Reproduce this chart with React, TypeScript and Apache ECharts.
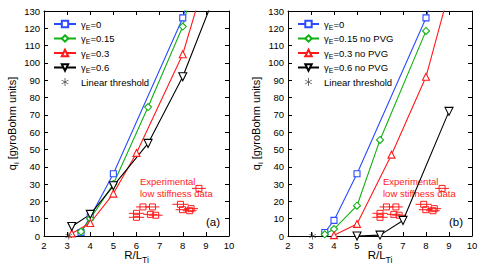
import React, { useEffect, useRef } from "react";
import * as echarts from "echarts";

// ---------- data ----------
const xTicksMin = 2;
const xTicksMax = 10;
const yTicksMin = 0;
const yTicksMax = 130;

// panel (a)
const gE0_a = [[3.6, 2], [4, 11], [5, 36], [8, 126], [9, 171]];
const gE015_a = [[3.6, 2.5], [4, 10], [5, 30], [6.5, 74.5], [8, 121], [9, 175]];
const gE03_a = [[3.2, 1.5], [4, 7.5], [5, 24.5], [6, 48], [8, 105], [9, 150]];
const gE06_a = [[3.2, 5.5], [4, 12.5], [5, 29], [6.5, 53.5], [8, 92], [10, 160]];

// panel (b)
const gE0_b = [[3.6, 2], [4, 9], [5, 36], [8, 126], [9, 171]];
const gE015_b = [[3.6, 1], [4, 4], [5, 17.5], [6, 55.5], [8, 118.5]];
const gE03_b = [[4, 0.5], [5, 7], [6.5, 47], [8, 92], [9, 141]];
const gE06_b = [[5, 0], [6, 0.5], [7, 9], [9, 72]];

const linearThreshold = [[3.07, 0]];

// experimental low stiffness data: x, y, x half-error
const expX = [6.28, 6.69, 6.0, 6.0, 6.6, 6.83, 7.9, 7.99, 8.3, 8.36, 8.7];
const expY = [16.8, 16.8, 13.1, 10.8, 12.5, 12.0, 18.3, 15.2, 14.6, 15.8, 27.5];
const expErr = [0.3, 0.3, 0.33, 0.33, 0.3, 0.3, 0.35, 0.3, 0.3, 0.3, 0.3];

const namesA = ["γE=0", "γE=0.15", "γE=0.3", "γE=0.6", "Linear threshold"];
const namesB = ["γE=0", "γE=0.15 no PVG", "γE=0.3 no PVG", "γE=0.6 no PVG", "Linear threshold"];

const BLUE = "#2a4bff";
const GREEN = "#12b012";
const RED = "#ff1a1a";
const BLACK = "#000000";

const FONT = "Liberation Sans";

const INV_TRI = "path://M0,0 L10,0 L5,9 Z";
const ASTERISK =
  "path://M4.5,0 L5.5,0 L5.5,10 L4.5,10 Z M0.92,2.07 L9.58,7.07 L9.08,7.93 L0.42,2.93 Z M0.42,7.07 L9.08,2.07 L9.58,2.93 L0.92,7.93 Z";

export default function App() {
  const ref = useRef<HTMLDivElement>(null);

  useEffect(() => {
    if (!ref.current) return;
    const chart = echarts.init(ref.current, null, { renderer: "svg" });

    const grids = [
      { left: 44, right: 252, top: 11, bottom: 31, outerBoundsMode: "none", containLabel: false },
      { left: 288, right: 9, top: 11, bottom: 31, outerBoundsMode: "none", containLabel: false },
    ];

    const tickStyle = { show: true, inside: true, length: 4, lineStyle: { color: "#000", width: 1 } };
    const lineStyle = { show: true, lineStyle: { color: "#000", width: 1 } };

    const xAxes: any[] = [];
    const yAxes: any[] = [];
    [0, 1].forEach((g) => {
      xAxes.push({
        type: "value",
        gridIndex: g,
        min: xTicksMin,
        max: xTicksMax,
        interval: 1,
        position: "bottom",
        axisLine: { ...lineStyle, onZero: false },
        axisTick: tickStyle,
        splitLine: { show: false },
        axisLabel: { color: "#000", fontSize: 9.5, fontFamily: FONT, margin: 4 },
        name: "{a|R/L}{s|Ti}",
        nameLocation: "middle",
        nameGap: 12,
        nameMoveOverlap: false,
        nameTextStyle: {
          color: "#000",
          lineHeight: 14,
          rich: {
            a: { fontSize: 11.5, fontFamily: FONT, color: "#000", lineHeight: 14 },
            s: { fontSize: 8.5, fontFamily: FONT, color: "#000", lineHeight: 14, padding: [9, 0, 0, 0] },
          },
        },
      });
      xAxes.push({
        type: "value",
        gridIndex: g,
        min: xTicksMin,
        max: xTicksMax,
        interval: 1,
        position: "top",
        axisLine: { ...lineStyle, onZero: false },
        axisTick: tickStyle,
        splitLine: { show: false },
        axisLabel: { show: false },
      });
      yAxes.push({
        type: "value",
        gridIndex: g,
        min: yTicksMin,
        max: yTicksMax,
        interval: 10,
        position: "left",
        axisLine: { ...lineStyle, onZero: false },
        axisTick: tickStyle,
        splitLine: { show: false },
        axisLabel: { color: "#000", fontSize: 9.5, fontFamily: FONT, margin: 4 },
        name: "{a|q}{s|i}{a| [gyroBohm units]}",
        nameLocation: "middle",
        nameGap: 23,
        nameTextStyle: {
          color: "#000",
          rich: {
            a: { fontSize: 11, fontFamily: FONT, color: "#000" },
            s: { fontSize: 7.5, fontFamily: FONT, color: "#000", padding: [8, 0, 0, 0] },
          },
        },
      });
      yAxes.push({
        type: "value",
        gridIndex: g,
        min: yTicksMin,
        max: yTicksMax,
        interval: 10,
        position: "right",
        axisLine: { ...lineStyle, onZero: false },
        axisTick: tickStyle,
        splitLine: { show: false },
        axisLabel: { show: false },
      });
    });

    const lineSeries = (name: string, data: number[][], color: string, symbol: string, size: number, panel: number) => ({
      type: "line",
      name,
      data,
      xAxisIndex: panel * 2,
      yAxisIndex: panel * 2,
      symbol,
      symbolSize: size,
      showAllSymbol: true,
      clip: true,
      color,
      lineStyle: { color, width: 1.1 },
      itemStyle: { color: "#fff", borderColor: color, borderWidth: 1.1 },
      emphasis: { disabled: true },
      z: 3,
    });

    const expData = expX.map((x, i) => [x, expY[i], expErr[i]]);

    const expSeries = (panel: number) => ({
      type: "custom",
      name: "Experimental",
      xAxisIndex: panel * 2,
      yAxisIndex: panel * 2,
      data: expData,
      z: 2,
      renderItem: (params: any, api: any) => {
        const x = api.value(0);
        const y = api.value(1);
        const e = api.value(2);
        const p = api.coord([x, y]);
        const l = api.coord([x - e, y]);
        const r = api.coord([x + e, y]);
        return {
          type: "group",
          children: [
            {
              type: "line",
              shape: { x1: l[0], y1: l[1], x2: r[0], y2: r[1] },
              style: { stroke: RED, lineWidth: 1 },
            },
            {
              type: "rect",
              shape: { x: p[0] - 3, y: p[1] - 3, width: 6, height: 6 },
              style: { stroke: RED, fill: "rgba(255,255,255,0)", lineWidth: 1 },
            },
          ],
        };
      },
    });

    const thrSeries = (panel: number) => ({
      type: "scatter",
      name: "Linear threshold",
      xAxisIndex: panel * 2,
      yAxisIndex: panel * 2,
      data: linearThreshold,
      symbol: ASTERISK,
      symbolSize: 7,
      itemStyle: { color: "#222" },
      z: 4,
    });

    const series: any[] = [
      lineSeries(namesA[0], gE0_a, BLUE, "rect", 6, 0),
      lineSeries(namesA[1], gE015_a, GREEN, "diamond", 7, 0),
      lineSeries(namesA[2], gE03_a, RED, "triangle", 7, 0),
      lineSeries(namesA[3], gE06_a, BLACK, INV_TRI, 8, 0),
      thrSeries(0),
      expSeries(0),
      lineSeries(namesB[0], gE0_b, BLUE, "rect", 6, 1),
      lineSeries(namesB[1], gE015_b, GREEN, "diamond", 7, 1),
      lineSeries(namesB[2], gE03_b, RED, "triangle", 7, 1),
      lineSeries(namesB[3], gE06_b, BLACK, INV_TRI, 8, 1),
      thrSeries(1),
      expSeries(1),
    ];

    const legendFmt = (name: string) => {
      if (name.startsWith("γE")) {
        return "{g|γ}{s|E}{g|" + name.slice(2) + "}";
      }
      return "{g|" + name + "}";
    };
    const legendRich = {
      g: { fontSize: 9.5, fontFamily: FONT, color: "#000" },
      s: { fontSize: 7, fontFamily: FONT, color: "#000", padding: [6, 0, 0, 0] },
    };
    const mkLegend = (left: number, itemWidth: number, data: string[]) => ({
      orient: "vertical",
      left,
      top: 13,
      itemWidth,
      itemHeight: 8,
      itemGap: 2,
      data,
      formatter: legendFmt,
      textStyle: { rich: legendRich, lineHeight: 12 },
      selectedMode: false,
    });

    const annoText = (left: number) => ({
      type: "text",
      left,
      top: 175,
      style: {
        text: "Experimental\nlow stiffness data",
        fill: RED,
        font: `9.5px "${FONT}"`,
        lineHeight: 12.5,
      },
    });

    chart.setOption({
      animation: false,
      backgroundColor: "#fff",
      grid: grids,
      xAxis: xAxes,
      yAxis: yAxes,
      legend: [mkLegend(48, 22, namesA), mkLegend(292, 21, namesB)],
      series,
      graphic: [
        annoText(140),
        annoText(383),
        { type: "text", left: 206, top: 216, style: { text: "(a)", fill: "#000", font: `11.5px "${FONT}"` } },
        { type: "text", left: 449, top: 216, style: { text: "(b)", fill: "#000", font: `11.5px "${FONT}"` } },
      ],
    });

    return () => chart.dispose();
  }, []);

  return <div ref={ref} style={{ width: 481, height: 267, position: "absolute", left: 0, top: 0 }} />;
}
